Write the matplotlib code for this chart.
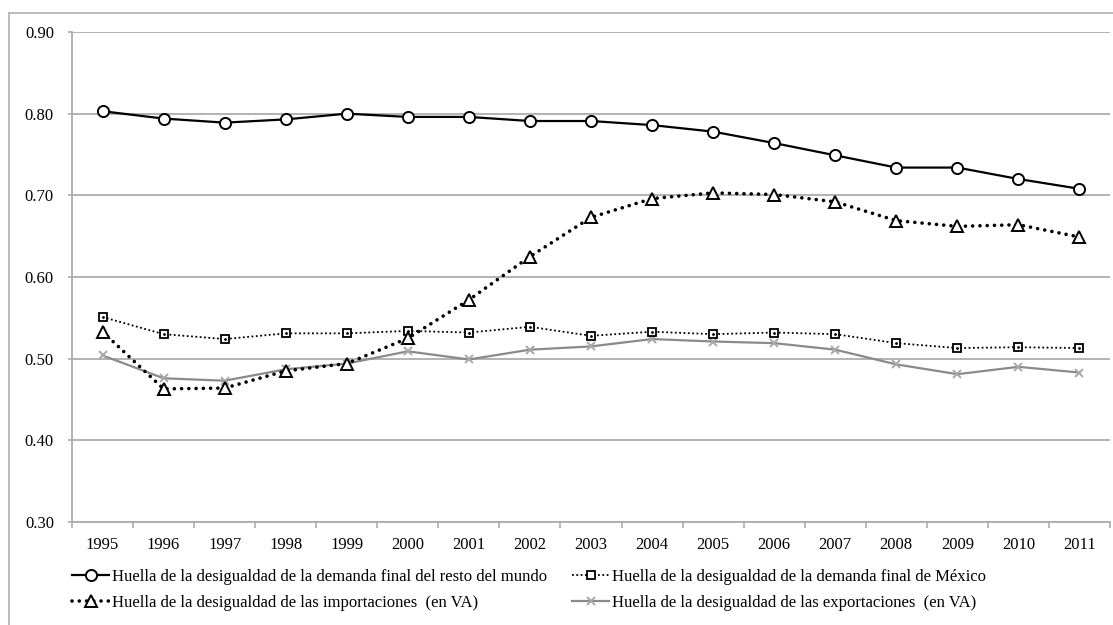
import numpy as np
import matplotlib
matplotlib.use('Agg')
import matplotlib.pyplot as plt
from matplotlib.lines import Line2D
from matplotlib.ticker import FixedLocator, FormatStrFormatter

plt.rcParams['font.family'] = ['Liberation Serif', 'DejaVu Serif']

years = [str(y) for y in range(1995, 2012)]

resto_mundo = [0.803, 0.794, 0.789, 0.793, 0.800, 0.796, 0.796, 0.791, 0.791,
               0.786, 0.778, 0.764, 0.749, 0.734, 0.734, 0.720, 0.708]
mexico = [0.551, 0.530, 0.524, 0.531, 0.531, 0.534, 0.532, 0.539, 0.528,
          0.533, 0.530, 0.532, 0.530, 0.519, 0.513, 0.514, 0.513]
importaciones = [0.533, 0.463, 0.464, 0.485, 0.494, 0.525, 0.572, 0.625, 0.673,
                 0.696, 0.703, 0.701, 0.692, 0.669, 0.662, 0.664, 0.649]
exportaciones = [0.504, 0.476, 0.473, 0.487, 0.494, 0.509, 0.499, 0.511, 0.515,
                 0.524, 0.521, 0.519, 0.511, 0.493, 0.481, 0.490, 0.483]

labels = ['Huella de la desigualdad de la demanda final del resto del mundo',
          'Huella de la desigualdad de la demanda final de México',
          'Huella de la desigualdad de las importaciones  (en VA)',
          'Huella de la desigualdad de las exportaciones  (en VA)']

fig = plt.figure(figsize=(11.13, 6.25), dpi=100)
ax = fig.add_axes([72 / 1113, 1 - 522 / 625, 1038 / 1113, 490 / 625])

x = np.arange(len(years))
grid_c = '#adadad'

l1, = ax.plot(x, resto_mundo, color='black', lw=1.6, marker='o', ms=8,
              mfc='white', mec='black', mew=1.4, zorder=5)
l2, = ax.plot(x, mexico, color='black', lw=1.3, ls=(0, (1, 1.4)), marker='s', ms=6,
              mfc='white', mec='black', mew=1.3, zorder=5)
ax.plot(x, mexico, ls='none', marker='.', ms=2, color='black', zorder=6)
l3, = ax.plot(x, importaciones, color='black', lw=2.6, ls=(0, (0.01, 2.0)),
              dash_capstyle='round', marker='^', ms=9, mfc='white', mec='black',
              mew=1.4, zorder=5)
l4, = ax.plot(x, exportaciones, color='#8a8a8a', lw=1.6, marker='x', ms=6,
              mec='#a8a8a8', mew=1.4, zorder=4)

ax.set_xlim(-0.5, len(years) - 0.5)
ax.set_ylim(0.30, 0.90)
ax.set_yticks(np.arange(0.30, 0.901, 0.10))
ax.yaxis.set_major_formatter(FormatStrFormatter('%.2f'))
ax.yaxis.grid(True, color=grid_c, lw=1.3)
ax.set_axisbelow(True)

ax.set_xticks(x)
ax.set_xticklabels(years)
ax.xaxis.set_minor_locator(FixedLocator(np.arange(-0.5, len(years), 1)))
ax.tick_params(axis='x', which='major', length=0, pad=11, labelsize=12)
ax.tick_params(axis='x', which='minor', length=4, color=grid_c, width=1.2)
ax.tick_params(axis='y', length=3, color=grid_c, width=1.2, pad=10, labelsize=12)

for s in ['top', 'right']:
    ax.spines[s].set_visible(False)
for s in ['left', 'bottom']:
    ax.spines[s].set_color(grid_c)
    ax.spines[s].set_linewidth(1.3)

leg = fig.legend([l1, l3, l2, l4], [labels[0], labels[2], labels[1], labels[3]],
                 ncol=2, frameon=False, loc='upper left',
                 bbox_to_anchor=(64 / 1113, 1 - 561 / 625), borderpad=0,
                 handlelength=2.2, handletextpad=0.2, columnspacing=1.5,
                 labelspacing=0.6, fontsize=12)

# outer chart frame
fig.add_artist(Line2D([9 / 1113, 1.0], [1 - 13 / 625, 1 - 13 / 625],
                      transform=fig.transFigure, color='#b5b5b5', lw=1.3))
fig.add_artist(Line2D([9 / 1113, 9 / 1113], [0, 1 - 13 / 625],
                      transform=fig.transFigure, color='#b5b5b5', lw=1.3))

fig.savefig('out.png', dpi=100)
